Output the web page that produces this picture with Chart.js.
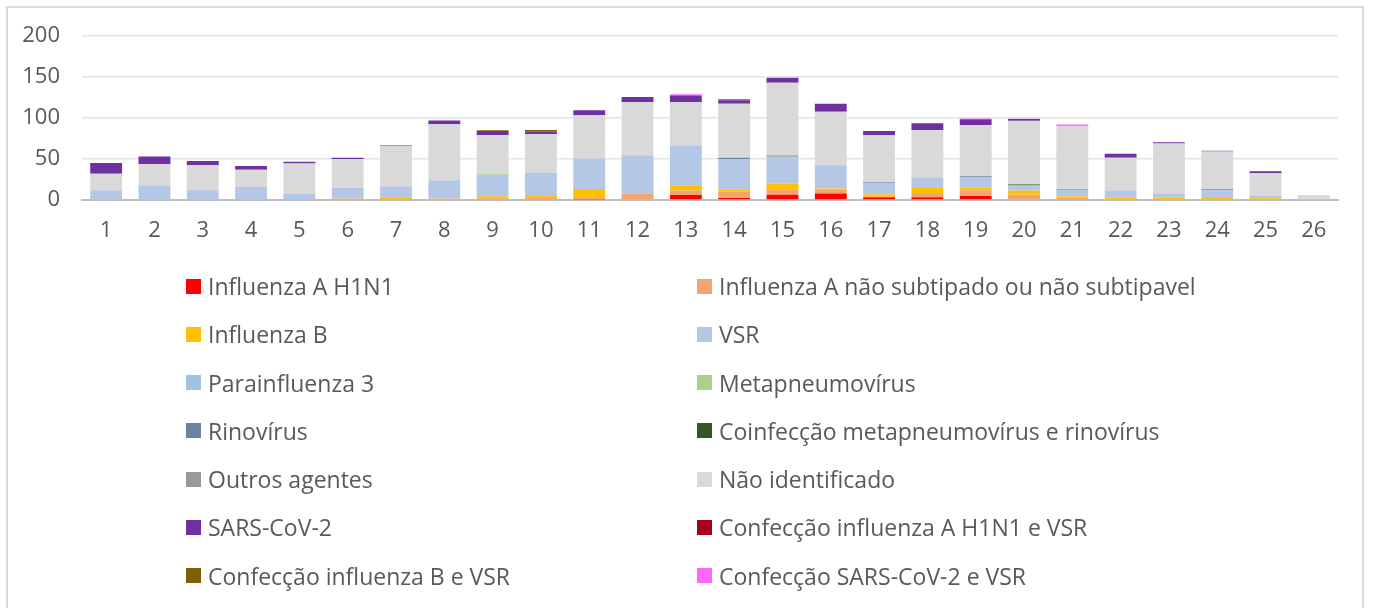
<!DOCTYPE html>
<html>
<head>
<meta charset="utf-8">
<script src="https://cdn.jsdelivr.net/npm/chart.js@4.4.0/dist/chart.umd.min.js"></script>
<style>
  html, body { margin: 0; padding: 0; background: #fff; }
  body { width: 1373px; height: 608px; position: relative; overflow: hidden; font-family: "Open Sans", sans-serif; }
  #frame { position: absolute; left: 6px; top: 6px; width: 1358px; height: 640px; border: 2px solid #d9d9d9; box-sizing: border-box; }
  #chart { position: absolute; left: 0; top: 0; }
  #legend { position: absolute; left: 186px; top: 262px; display: grid; grid-template-columns: 511px 511px; grid-auto-rows: 48.25px; }
  .item { display: flex; align-items: center; font-size: 23px; color: #595959; white-space: nowrap; }
  .box { width: 15px; height: 15px; margin-right: 7px; flex: none; }
</style>
</head>
<body>
<div id="frame"></div>
<canvas id="chart" width="1373" height="608"></canvas>
<div id="legend"></div>
<script>
const weeks = ["1","2","3","4","5","6","7","8","9","10","11","12","13","14","15","16","17","18","19","20","21","22","23","24","25","26"];

const h1n1          = [0,0,0,0,0,0,0,0,0,1,0.5,0,6,2.5,6.5,8,3.5,3.5,5,0,1,0,0,0,0,0];
const fluANaoSub    = [0,0,0,0,1,0.5,0,0,2,2.5,2,7.5,5.5,7.5,6,5,0.5,5,7,6.5,2,1,0,0,0.5,0];
const fluB          = [0,0,1,0.5,0,1,2.5,1.5,2.5,1.5,11,1,6.5,3,7.5,1,3,6,3,5,1.5,2,3,2.5,1.5,0];
const vsr           = [12,17,11,15.5,6.5,13,14,22.5,26,28.5,37,46,48.5,37,33,28,14,13,13,6,8,8.5,5,9.5,3,0];
const parainf3      = [0,0,0,0,0,0,0,0,0,0,0,0,0,0,0,0,0,0,0,0,0,0,0,0,0,0];
const metapneumo    = [0,0.5,0.5,0,0,0,0,0,1,0,0,0,0,0,0,0,0,0,0,0,0,0,0,0,0,0];
const rinovirus     = [0,0,0,0,0,0,0,0,0,0,0,0,0,1.5,0,0.5,1,0,1,0.5,1,0,0,1,0,0];
const coinfMetaRino = [0,0,0,0,0,0,0,0,0,0,0,0,0,0,1,0,0,0,0,1,0,0,0,0,0,0];
const outros        = [0,0,0,0,0,0,0,0,0,0,0,0,0,0,0,0,0,0,0,0,0,0,0,0,0,0];
const naoIdent      = [20,26,30,21,37,35.5,49,68.5,47.5,47,53,65,53,66,89,65,57,58,62.5,77.5,76.5,40,61,46,28,6];
const sarsCov2      = [13,9.5,5,4.5,2,1.5,1,4.5,5,3,6,6,8,4,6,10,5,8,7,2.5,0,5,1.5,1,2,0];
const confH1n1Vsr   = [0,0,0,0,0,0,0,0,0,0,0,0,0,0.5,0,0,0,0,0,0,0,0,0,0,0,0];
const confBVsr      = [0,0,0,0,0,0,0,0,1,2,0,0,0,1,0,0,0,0,0,0,0,0,0,0,0,0];
const confSarsVsr   = [0,0,0,0,0,0,0,0,0,0,0,0,1.5,0,0,0,0,0,1,0,2,0,0,0,0,0];

const yTicks = [0, 50, 100, 150, 200];

const series = [
  ["Influenza A H1N1", h1n1, "#ff0000"],
  ["Influenza A não subtipado ou não subtipavel", fluANaoSub, "#f4a46e"],
  ["Influenza B", fluB, "#ffc000"],
  ["VSR", vsr, "#b4c7e7"],
  ["Parainfluenza 3", parainf3, "#9dc3e6"],
  ["Metapneumovírus", metapneumo, "#a9d18e"],
  ["Rinovírus", rinovirus, "#6b83a3"],
  ["Coinfecção metapneumovírus e rinovírus", coinfMetaRino, "#375623"],
  ["Outros agentes", outros, "#999999"],
  ["Não identificado", naoIdent, "#d9d9d9"],
  ["SARS-CoV-2", sarsCov2, "#7030a0"],
  ["Confecção influenza A H1N1 e VSR", confH1n1Vsr, "#a50021"],
  ["Confecção influenza B e VSR", confBVsr, "#7f6000"],
  ["Confecção SARS-CoV-2 e VSR", confSarsVsr, "#ff66ff"]
];

const font = { family: "'Open Sans', sans-serif", size: 22 };

new Chart(document.getElementById("chart"), {
  type: "bar",
  data: {
    labels: weeks,
    datasets: series.map(([label, data, color]) => ({
      label, data,
      backgroundColor: color,
      borderWidth: 0,
      barPercentage: 0.66,
      categoryPercentage: 1
    }))
  },
  options: {
    responsive: false,
    animation: false,
    layout: { padding: { left: 0, right: 35, top: 36, bottom: 348 } },
    plugins: { legend: { display: false }, tooltip: { enabled: false } },
    scales: {
      x: {
        stacked: true,
        grid: { display: false },
        border: { color: "#bfbfbf", width: 2 },
        ticks: { color: "#595959", font, padding: 10, maxRotation: 0 },
        afterFit: s => { s.height = 60; }
      },
      y: {
        stacked: true,
        min: 0, max: 200,
        afterBuildTicks: s => { s.ticks = yTicks.map(v => ({ value: v })); },
        grid: { color: "#e4e4e4", lineWidth: 1.5, drawTicks: false },
        border: { display: false },
        ticks: { color: "#595959", font, padding: 22 },
        afterFit: s => { s.width = 82; }
      }
    }
  }
});

const legend = document.getElementById("legend");
series.forEach(([label, , color]) => {
  const it = document.createElement("div");
  it.className = "item";
  it.innerHTML = '<span class="box" style="background:' + color + '"></span><span></span>';
  it.lastChild.textContent = label;
  legend.appendChild(it);
});
</script>
</body>
</html>
